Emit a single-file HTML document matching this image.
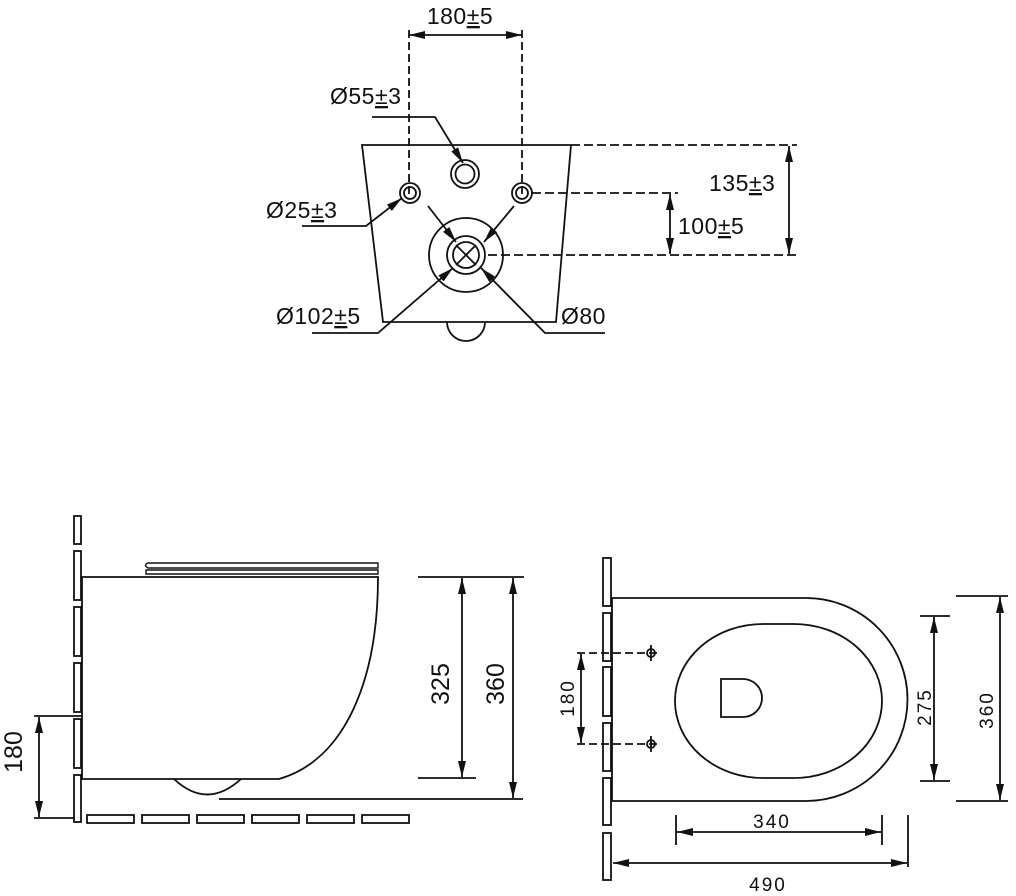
<!DOCTYPE html>
<html><head><meta charset="utf-8"><style>
html,body{margin:0;padding:0;background:#fff;width:1016px;height:896px;overflow:hidden}
svg{display:block}
text{font-family:"Liberation Sans",Arial,sans-serif;fill:#111}
</style></head><body>
<svg width="1016" height="896" viewBox="0 0 1016 896" xmlns="http://www.w3.org/2000/svg">
<defs>
<marker id="a" viewBox="0 0 16 8" refX="16" refY="4" markerWidth="16" markerHeight="8" markerUnits="userSpaceOnUse" orient="auto-start-reverse">
<path d="M0,0 L16,4 L0,8 Z" fill="#111"/></marker>
</defs>
<g stroke="#111" fill="none" stroke-width="1.8">
<line x1="409" y1="30" x2="409" y2="195" stroke-dasharray="8,4"/>
<line x1="522" y1="30" x2="522" y2="195" stroke-dasharray="8,4"/>
<line x1="409" y1="35" x2="522" y2="35" marker-start="url(#a)" marker-end="url(#a)"/>
<path d="M362,145 L571,145 L556,322 L383,322 Z"/>
<circle cx="465" cy="174" r="14"/><circle cx="465" cy="174" r="9.5"/>
<circle cx="410" cy="193" r="10"/><circle cx="410" cy="193" r="6"/>
<circle cx="522" cy="193" r="10"/><circle cx="522" cy="193" r="6"/>
<circle cx="466" cy="255" r="37"/><circle cx="466" cy="255" r="19"/><circle cx="466" cy="255" r="13"/>
<line x1="456" y1="245" x2="476" y2="265"/><line x1="476" y1="245" x2="456" y2="265"/>
<path d="M447,322 A19,19 0 0 0 485,322"/>
<line x1="571" y1="145" x2="797" y2="145" stroke-dasharray="9,4"/>
<line x1="532" y1="193" x2="678" y2="193" stroke-dasharray="9,4"/>
<line x1="488" y1="255" x2="797" y2="255" stroke-dasharray="9,4"/>
<line x1="789" y1="146" x2="789" y2="254" marker-start="url(#a)" marker-end="url(#a)"/>
<line x1="670" y1="194" x2="670" y2="254" marker-start="url(#a)" marker-end="url(#a)"/>
<path d="M372,117 L435,117 L463,163" marker-end="url(#a)"/>
<path d="M302,226 L366,226 L402,198" marker-end="url(#a)"/>
<line x1="428" y1="206" x2="456" y2="242" marker-end="url(#a)"/>
<line x1="514" y1="206" x2="484" y2="242" marker-end="url(#a)"/>
<path d="M312,333 L378,333 L453,268" marker-end="url(#a)"/>
<path d="M605,333 L545,333 L481,268" marker-end="url(#a)"/>
<rect x="74" y="516" width="7" height="28"/>
<rect x="74" y="551" width="7" height="49"/>
<rect x="74" y="607" width="7" height="49"/>
<rect x="74" y="663" width="7" height="49"/>
<rect x="74" y="719" width="7" height="49"/>
<rect x="74" y="775" width="7" height="47"/>
<rect x="87" y="815" width="47" height="8"/>
<rect x="142" y="815" width="47" height="8"/>
<rect x="197" y="815" width="47" height="8"/>
<rect x="252" y="815" width="47" height="8"/>
<rect x="307" y="815" width="47" height="8"/>
<rect x="362" y="815" width="47" height="8"/>
<path d="M82,577 L378,577 C378,680 345,760 279,779 L82,779 Z"/>
<path d="M148,563 L378,563 L378,568 L148,568 Q143,565 148,563 Z" stroke-width="1.4"/>
<path d="M146,570 L378,570 L378,574 L146,574 Z" stroke-width="1.4"/>
<path d="M174,779 Q207,810 241,779"/>
<line x1="219" y1="799" x2="523" y2="799"/>
<line x1="418" y1="577" x2="524" y2="577"/>
<line x1="418" y1="778" x2="476" y2="778"/>
<line x1="462" y1="578" x2="462" y2="777" marker-start="url(#a)" marker-end="url(#a)"/>
<line x1="513" y1="578" x2="513" y2="798" marker-start="url(#a)" marker-end="url(#a)"/>
<line x1="34" y1="716" x2="82" y2="716"/>
<line x1="34" y1="818" x2="74" y2="818"/>
<line x1="39" y1="717" x2="39" y2="817" marker-start="url(#a)" marker-end="url(#a)"/>
<rect x="603" y="558" width="8" height="48"/>
<rect x="603" y="613" width="8" height="48"/>
<rect x="603" y="667" width="8" height="49"/>
<rect x="603" y="723" width="8" height="48"/>
<rect x="603" y="778" width="8" height="47"/>
<rect x="603" y="833" width="8" height="47"/>
<path d="M612,598 L806,598 A101.5,101.5 0 0 1 806,801 L612,801 Z"/>
<rect x="675" y="624" width="207" height="154" rx="88" ry="77"/>
<path d="M721,679 L743,679 A19,19 0 0 1 743,717 L721,717 Z"/>
<line x1="577" y1="653" x2="658" y2="653" stroke-dasharray="8,4"/>
<line x1="577" y1="744" x2="658" y2="744" stroke-dasharray="8,4"/>
<circle cx="651" cy="653" r="4"/><line x1="651" y1="645" x2="651" y2="661"/>
<circle cx="651" cy="744" r="4"/><line x1="651" y1="736" x2="651" y2="752"/>
<line x1="581" y1="654" x2="581" y2="743" marker-start="url(#a)" marker-end="url(#a)"/>
<line x1="920" y1="616" x2="950" y2="616"/>
<line x1="920" y1="781" x2="950" y2="781"/>
<line x1="934" y1="617" x2="934" y2="780" marker-start="url(#a)" marker-end="url(#a)"/>
<line x1="956" y1="596" x2="1008" y2="596"/>
<line x1="956" y1="801" x2="1008" y2="801"/>
<line x1="1000" y1="597" x2="1000" y2="800" marker-start="url(#a)" marker-end="url(#a)"/>
<line x1="676" y1="815" x2="676" y2="845"/>
<line x1="882" y1="815" x2="882" y2="845"/>
<line x1="677" y1="832" x2="881" y2="832" marker-start="url(#a)" marker-end="url(#a)"/>
<line x1="908" y1="815" x2="908" y2="867"/>
<line x1="613" y1="863" x2="907" y2="863" marker-start="url(#a)" marker-end="url(#a)"/>
</g>
<g font-size="23" letter-spacing="0.5">
<text x="460" y="24" text-anchor="middle">180<tspan text-decoration="underline">±</tspan>5</text>
<text x="330" y="104">Ø55<tspan text-decoration="underline">±</tspan>3</text>
<text x="266" y="218">Ø25<tspan text-decoration="underline">±</tspan>3</text>
<text x="709" y="191">135<tspan text-decoration="underline">±</tspan>3</text>
<text x="678" y="234">100<tspan text-decoration="underline">±</tspan>5</text>
<text x="276" y="324">Ø102<tspan text-decoration="underline">±</tspan>5</text>
<text x="561" y="324">Ø80</text>
</g>
<g font-size="25">
<text transform="translate(449,684) rotate(-90)" text-anchor="middle">325</text>
<text transform="translate(504,684) rotate(-90)" text-anchor="middle">360</text>
<text transform="translate(22,752) rotate(-90)" text-anchor="middle">180</text>
</g>
<g font-size="19" letter-spacing="2">
<text transform="translate(574,698) rotate(-90)" text-anchor="middle">180</text>
<text transform="translate(931,707) rotate(-90)" text-anchor="middle">275</text>
<text transform="translate(993,710) rotate(-90)" text-anchor="middle">360</text>
<text x="772" y="828" text-anchor="middle">340</text>
<text x="768" y="891" text-anchor="middle">490</text>
</g>
</svg>
</body></html>
